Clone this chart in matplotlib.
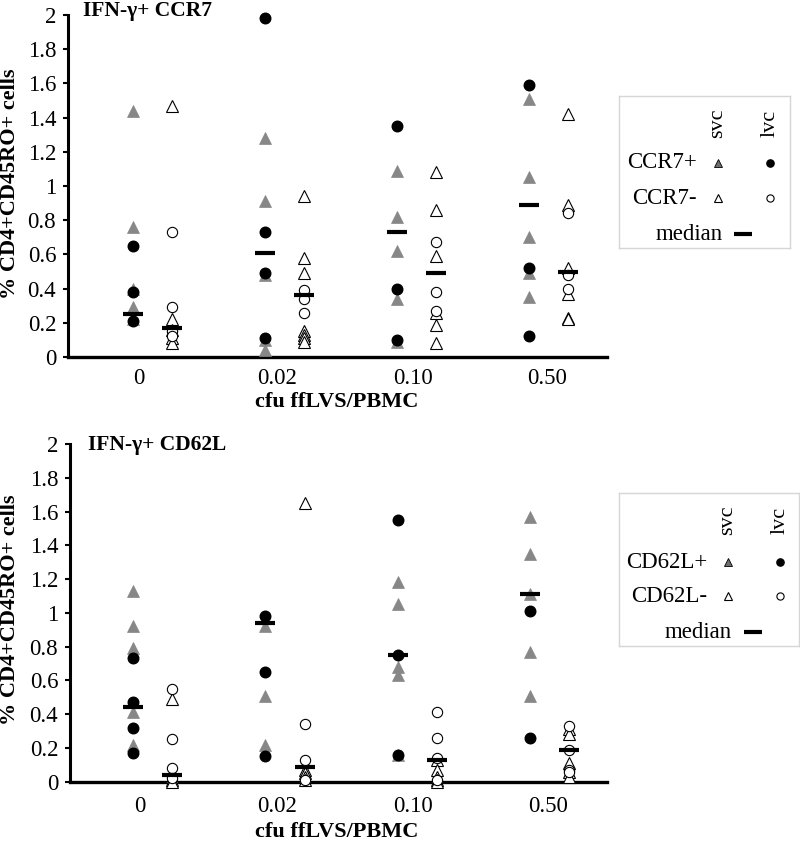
import numpy as np
import matplotlib
matplotlib.use("Agg")
import matplotlib.pyplot as plt

plt.rcParams['font.family'] = ['Liberation Serif', 'DejaVu Serif']

# ---------------- data ----------------
dose_labels = ["0", "0.02", "0.10", "0.50"]
y_ticks = [0, 0.2, 0.4, 0.6, 0.8, 1.0, 1.2, 1.4, 1.6, 1.8, 2.0]

# Panel 1: IFN-g+ CCR7
ccr7_svc_pos = [[1.44, 0.76, 0.40, 0.29, 0.22],
                [1.28, 0.91, 0.48, 0.10, 0.04],
                [1.09, 0.82, 0.62, 0.34, 0.09],
                [1.51, 1.05, 0.70, 0.49, 0.35]]
ccr7_lvc_pos = [[0.65, 0.38, 0.21],
                [1.98, 0.73, 0.49, 0.11],
                [1.35, 0.40, 0.10],
                [1.59, 0.52, 0.12]]
ccr7_svc_neg = [[1.47, 0.22, 0.16, 0.11, 0.08],
                [0.94, 0.58, 0.49, 0.15, 0.13, 0.11, 0.09],
                [1.08, 0.86, 0.59, 0.26, 0.19, 0.08],
                [1.42, 0.89, 0.52, 0.37, 0.23, 0.22]]
ccr7_lvc_neg = [[0.73, 0.29, 0.15, 0.12],
                [0.39, 0.34, 0.26],
                [0.67, 0.38, 0.27],
                [0.84, 0.48, 0.40]]
ccr7_median_pos = [0.25, 0.61, 0.73, 0.89]
ccr7_median_neg = [0.17, 0.36, 0.49, 0.50]

# Panel 2: IFN-g+ CD62L
cd62l_svc_pos = [[1.13, 0.92, 0.79, 0.41, 0.22],
                 [0.92, 0.51, 0.22],
                 [1.18, 1.05, 0.68, 0.63, 0.16],
                 [1.57, 1.35, 1.11, 0.77, 0.51]]
cd62l_lvc_pos = [[0.73, 0.47, 0.32, 0.17],
                 [0.98, 0.65, 0.15],
                 [1.55, 0.75, 0.16],
                 [1.01, 0.26]]
cd62l_svc_neg = [[0.49, 0.03, 0.01, 0.00],
                 [1.65, 0.07, 0.05, 0.03, 0.01],
                 [0.13, 0.07, 0.03, 0.01, 0.00],
                 [0.31, 0.28, 0.11, 0.06, 0.03]]
cd62l_lvc_neg = [[0.55, 0.25, 0.08, 0.02],
                 [0.34, 0.13, 0.01],
                 [0.41, 0.26, 0.14, 0.01],
                 [0.33, 0.19, 0.07, 0.06]]
cd62l_median_pos = [0.44, 0.94, 0.75, 1.11]
cd62l_median_neg = [0.04, 0.09, 0.13, 0.19]

# ---------------- layout ----------------
W, H = 800, 842
fig = plt.figure(figsize=(W / 100, H / 100), dpi=100)

def px_axes(l, t, r, b, **kw):
    return fig.add_axes([l / W, 1 - b / H, (r - l) / W, (b - t) / H], **kw)

GRAY = '#878787'
OFF = 0.148
tick_pos = [-0.10, 0.94, 1.97, 2.99]

def panel(ax, svc_pos, lvc_pos, svc_neg, lvc_neg, med_pos, med_neg, xlim, label_pad):
    for i in range(4):
        xp = i - OFF
        xn = i + OFF
        ax.plot([xp] * len(svc_pos[i]), svc_pos[i], ls='none', marker='^', ms=8.6,
                mfc=GRAY, mec=GRAY, mew=0.5, clip_on=False, zorder=3)
        ax.plot([xp] * len(lvc_pos[i]), lvc_pos[i], ls='none', marker='o', ms=7.6,
                mfc='black', mec='black', clip_on=False, zorder=4)
        ax.plot([xn] * len(svc_neg[i]), svc_neg[i], ls='none', marker='^', ms=8.4,
                mfc='white', mec='black', mew=0.8, clip_on=False, zorder=5)
        ax.plot([xn] * len(lvc_neg[i]), lvc_neg[i], ls='none', marker='o', ms=7.4,
                mfc='white', mec='black', mew=0.8, clip_on=False, zorder=6)
        ax.plot([xp], [med_pos[i]], ls='none', marker='_', ms=14, mew=3.0,
                color='black', clip_on=False, zorder=7)
        ax.plot([xn], [med_neg[i]], ls='none', marker='_', ms=14, mew=3.0,
                color='black', clip_on=False, zorder=7)
    ax.set_xlim(*xlim)
    ax.set_ylim(0, 2)
    ax.set_yticks(y_ticks)
    ax.set_yticklabels([f"{v:g}" for v in y_ticks], fontsize=16.5)
    ax.set_xticks(tick_pos)
    ax.set_xticklabels(dose_labels, fontsize=16.5)
    ax.tick_params(axis='x', length=0, pad=label_pad)
    ax.tick_params(axis='y', direction='out', length=3.5, width=1.5, pad=5)
    for s in ['top', 'right']:
        ax.spines[s].set_visible(False)
    ax.spines['left'].set_linewidth(2.2)
    ax.spines['bottom'].set_linewidth(2.4)
    ax.patch.set_alpha(0)

ax1 = px_axes(68, 15, 607, 357)
panel(ax1, ccr7_svc_pos, ccr7_lvc_pos, ccr7_svc_neg, ccr7_lvc_neg,
      ccr7_median_pos, ccr7_median_neg, (-0.640, 3.443), 8)
ax2 = px_axes(70, 444, 607, 781.7)
panel(ax2, cd62l_svc_pos, cd62l_lvc_pos, cd62l_svc_neg, cd62l_lvc_neg,
      cd62l_median_pos, cd62l_median_neg, (-0.625, 3.435), 10)

# titles / labels
fig.text(83 / W, 1 - 11 / H, "IFN-γ+ CCR7", fontsize=15.5, fontweight='bold', va='center', ha='left')
fig.text(88 / W, 1 - 445 / H, "IFN-γ+ CD62L", fontsize=15.5, fontweight='bold', va='center', ha='left')
for yc in (184, 610):
    fig.text(10 / W, 1 - yc / H, "% CD4+CD45RO+ cells", fontsize=16, fontweight='bold',
             rotation=90, va='center', ha='center')
fig.text(337 / W, 1 - 402 / H, "cfu ffLVS/PBMC", fontsize=16, fontweight='bold', va='center', ha='center')
fig.text(337 / W, 1 - 832 / H, "cfu ffLVS/PBMC", fontsize=16, fontweight='bold', va='center', ha='center')

# legends
def legend_box(l, t, r, b, pos_lbl, neg_lbl, cols):
    lax = px_axes(l, t, r, b)
    w, h = r - l, b - t
    lax.set_xlim(0, w)
    lax.set_ylim(h, 0)
    lax.set_xticks([])
    lax.set_yticks([])
    for s in lax.spines.values():
        s.set_edgecolor('#d6d6d6')
        s.set_linewidth(1.0)
    xs, xl, xt, r1, r2, r3, xm_t, xm = cols
    lax.text(xs, 27, "svc", rotation=90, fontsize=16, ha='center', va='center')
    lax.text(xl, 27, "lvc", rotation=90, fontsize=16, ha='center', va='center')
    lax.text(xt, r1, pos_lbl, fontsize=16.5, ha='right', va='center')
    lax.text(xt, r2, neg_lbl, fontsize=16.5, ha='right', va='center')
    lax.text(xm_t, r3, "median", fontsize=16.5, ha='right', va='center')
    lax.plot([xs], [r1], marker='^', ms=5.5, mfc='#6e6e6e', mec='black', mew=0.6, ls='none')
    lax.plot([xl], [r1], marker='o', ms=5.2, mfc='black', mec='black', ls='none')
    lax.plot([xs], [r2], marker='^', ms=5.5, mfc='white', mec='black', mew=0.8, ls='none')
    lax.plot([xl], [r2], marker='o', ms=5.2, mfc='white', mec='black', mew=0.8, ls='none')
    lax.plot([xm], [r3], marker='_', ms=13, mew=3.0, color='black', ls='none')

legend_box(619, 96, 790, 248, "CCR7+", "CCR7-", (99, 151, 78, 67, 102, 138, 104, 124))
legend_box(619, 493, 799, 646, "CD62L+", "CD62L-", (109, 161, 88, 69, 103, 139, 113, 134))

fig.savefig("out.png", dpi=100)
